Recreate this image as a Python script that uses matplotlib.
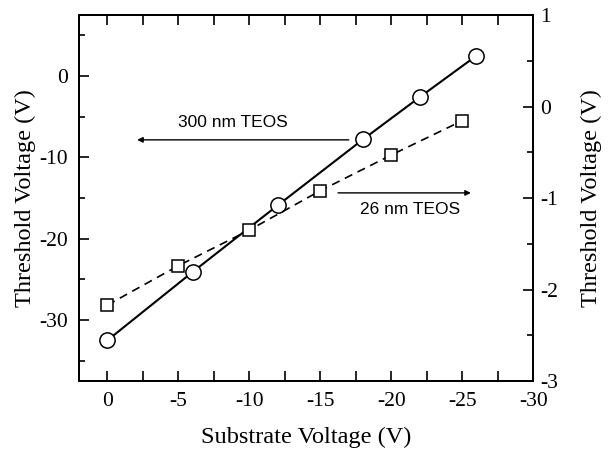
import matplotlib.pyplot as plt
from matplotlib.ticker import MultipleLocator

# 300 nm TEOS (left axis)
vsub_thick = [0, -6, -12, -18, -22, -26]
vth_thick = [-32.5, -24.1, -15.9, -7.8, -2.6, 2.5]

# 26 nm TEOS (right axis)
vsub_thin = [0, -5, -10, -15, -20, -25]
vth_thin = [-2.17, -1.74, -1.35, -0.92, -0.53, -0.155]

x_ticks = [0, -5, -10, -15, -20, -25, -30]
left_ticks = [-30, -20, -10, 0]
right_ticks = [-3, -2, -1, 0, 1]

serif = ['Liberation Serif', 'DejaVu Serif']
sans = ['Liberation Sans', 'DejaVu Sans']

fig = plt.figure(figsize=(6.11, 4.51), dpi=100)
ax = fig.add_axes([0.1293, 0.1552, 0.8728 - 0.1293, 0.9667 - 0.1552])
ax2 = ax.twinx()

ax.plot(vsub_thick, vth_thick, '-', color='black', lw=1.5, marker='o',
        markersize=11, markerfacecolor='white', markeredgecolor='black',
        markeredgewidth=1.1, zorder=3)
ax2.plot(vsub_thin, vth_thin, '--', color='black', lw=1.2, dashes=(5, 3.5),
         marker='s', markersize=9, markerfacecolor='white',
         markeredgecolor='black', markeredgewidth=1.1, zorder=3)

ax.set_xlim(2, -30)
ax.set_ylim(-37.5, 7.5)
ax2.set_ylim(-3, 1)

ax.xaxis.set_minor_locator(MultipleLocator(2.5))
ax.yaxis.set_minor_locator(MultipleLocator(5))
ax2.yaxis.set_minor_locator(MultipleLocator(0.5))

ax.set_xticks(x_ticks)
ax.set_xticklabels([str(v) for v in x_ticks])
ax.set_yticks(left_ticks)
ax.set_yticklabels([str(v) for v in left_ticks])
ax2.set_yticks(right_ticks)
ax2.set_yticklabels([str(v) for v in right_ticks])

for a in (ax, ax2):
    for s in a.spines.values():
        s.set_linewidth(1.4)
ax.tick_params(which='both', direction='in', top=True, right=False, width=1.2,
               labelsize=15.5, pad=8, length=7)
ax.tick_params(axis='y', which='minor', length=4)
ax2.tick_params(which='both', direction='in', width=1.2, labelsize=15.5, pad=5)
ax2.tick_params(which='major', length=7)
ax2.tick_params(which='minor', length=4)
for lab in ax.get_xticklabels() + ax.get_yticklabels() + ax2.get_yticklabels():
    lab.set_family(serif)

ax.set_xlabel('Substrate Voltage (V)', fontsize=17.5, family=serif, labelpad=11)
ax.set_ylabel('Threshold Voltage (V)', fontsize=17.5, family=serif, labelpad=2)
ax2.set_ylabel('Threshold Voltage (V)', fontsize=17.5, family=serif, labelpad=16)

ax.annotate('', xy=(-1.9, -7.85), xytext=(-17.2, -7.85),
            arrowprops=dict(arrowstyle='-|>', color='black', lw=1.0,
                            mutation_scale=8))
ax.text(-8.85, -5.7, '300 nm TEOS', fontsize=12.5, family=sans,
        ha='center', va='center')
ax.annotate('', xy=(-25.8, -14.37), xytext=(-16.05, -14.37),
            arrowprops=dict(arrowstyle='-|>', color='black', lw=1.0,
                            mutation_scale=8))
ax.text(-21.3, -16.45, '26 nm TEOS', fontsize=12.5, family=sans,
        ha='center', va='center')

fig.savefig('out.png', dpi=100)
